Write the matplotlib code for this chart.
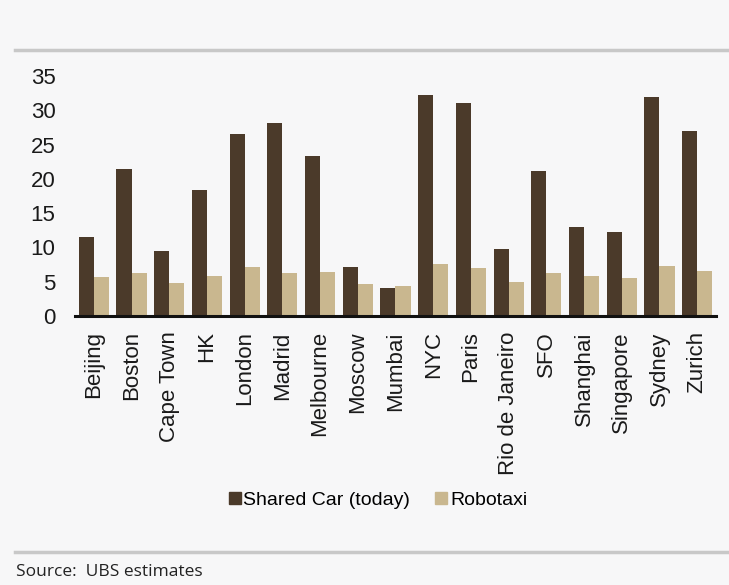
import matplotlib
matplotlib.use("Agg")
import matplotlib.pyplot as plt
import numpy as np
from matplotlib.lines import Line2D

cities = ["Beijing", "Boston", "Cape Town", "HK", "London", "Madrid", "Melbourne",
          "Moscow", "Mumbai", "NYC", "Paris", "Rio de Janeiro", "SFO", "Shanghai",
          "Singapore", "Sydney", "Zurich"]
shared_car = [11.5, 21.5, 9.5, 18.4, 26.5, 28.2, 23.3, 7.2, 4.1, 32.3, 31.0, 9.8,
              21.1, 13.0, 12.3, 31.9, 27.0]
robotaxi = [5.7, 6.3, 4.8, 5.9, 7.2, 6.3, 6.4, 4.6, 4.4, 7.6, 7.0, 4.9,
            6.3, 5.8, 5.6, 7.3, 6.6]
yticks = [0, 5, 10, 15, 20, 25, 30, 35]
series_names = ["Shared Car (today)", "Robotaxi"]
source_text = "Source:  UBS estimates"

dark = "#4b3a2a"
light = "#c9b78f"
bg = "#f7f7f8"

plt.rcParams['font.family'] = ['Liberation Sans', 'DejaVu Sans']

W, H = 729, 585
fig = plt.figure(figsize=(W / 100, H / 100), dpi=100, facecolor=bg)
ax = fig.add_axes([75 / W, 1 - 316 / H, (716 - 75) / W, (316 - 76) / H])
ax.set_facecolor(bg)

x = np.arange(len(cities))
bw = 0.4
ax.bar(x - bw / 2, shared_car, width=bw, color=dark, zorder=2)
ax.bar(x + bw / 2, robotaxi, width=bw, color=light, zorder=2)

ax.set_xlim(-0.5, len(cities) - 0.5)
ax.set_ylim(0, 35)
ax.set_yticks(yticks)
ax.set_yticklabels([str(v) for v in yticks], fontsize=16, color="#1a1a1a")
ax.set_xticks(x)
ax.set_xticklabels(cities, rotation=90, fontsize=16, color="#1a1a1a")
ax.tick_params(axis='y', length=0, pad=14)
ax.tick_params(axis='x', length=0, pad=11)
for s in ["top", "right", "left"]:
    ax.spines[s].set_visible(False)
ax.spines["bottom"].set_color("#111111")
ax.spines["bottom"].set_linewidth(2.2)
ax.spines["bottom"].set_zorder(3)

handles = [Line2D([], [], marker='s', linestyle='none', markersize=8,
                  markerfacecolor=dark, markeredgecolor=dark),
           Line2D([], [], marker='s', linestyle='none', markersize=8,
                  markerfacecolor=light, markeredgecolor=light)]
fig.legend(handles, series_names, loc='center', bbox_to_anchor=(378 / W, 1 - 500 / H),
           ncol=2, frameon=False, fontsize=14, handlelength=0.6, handletextpad=0.15,
           columnspacing=1.3, borderaxespad=0)

# header and footer rules
fig.add_artist(Line2D([15 / W, 1], [1 - 50 / H, 1 - 50 / H], color="#c8c8c8", lw=2.5,
                      transform=fig.transFigure))
fig.add_artist(Line2D([15 / W, 1], [1 - 552 / H, 1 - 552 / H], color="#c8c8c8", lw=2.5,
                      transform=fig.transFigure))
fig.text(16 / W, 1 - 572 / H, source_text, fontsize=12.5, va='center', ha='left',
         color="#222222", family=['Open Sans', 'DejaVu Sans'])

fig.savefig("out.png", dpi=100, facecolor=bg)
